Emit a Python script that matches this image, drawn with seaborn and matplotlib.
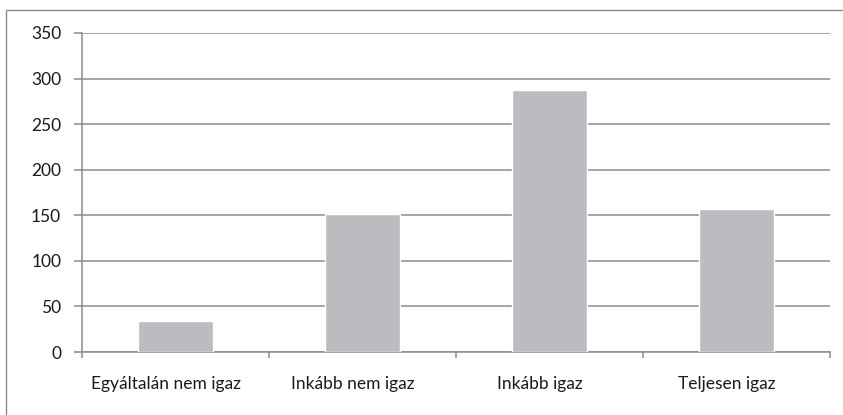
import matplotlib
matplotlib.use("Agg")
import matplotlib.pyplot as plt
import matplotlib.transforms as mtransforms
import seaborn as sns
from matplotlib.patches import Rectangle

# data
categories = ["Egyáltalán nem igaz", "Inkább nem igaz", "Inkább igaz", "Teljesen igaz"]
values = [34, 151, 287, 157]
y_ticks = [0, 50, 100, 150, 200, 250, 300, 350]

sns.set_style("white")
plt.rcParams["font.family"] = ["Lato", "DejaVu Sans"]

fig = plt.figure(figsize=(8.43, 4.15), dpi=100)
ax = fig.add_axes([0.0973, 0.1518, 0.8873, 0.7687])

grid_col = "#8c8c8c"
sns.barplot(x=categories, y=values, color="#bbbcbf", saturation=1,
            width=0.40, ax=ax, zorder=3)

ax.set_ylim(0, 350)
ax.set_xlim(-0.5, 3.5)
ax.set_yticks(y_ticks)
ax.set_yticklabels([str(v) for v in y_ticks])
ax.yaxis.grid(True, color=grid_col, linewidth=1.1)
ax.set_axisbelow(True)
ax.set_xlabel("")
ax.set_ylabel("")

for s in ["top", "right"]:
    ax.spines[s].set_visible(False)
for s in ["left", "bottom"]:
    ax.spines[s].set_color(grid_col)
    ax.spines[s].set_linewidth(1.1)

ax.tick_params(axis="y", left=True, length=6, width=1.1, color=grid_col,
               pad=9, labelsize=12.5, labelcolor="#1a1a1a")
ax.tick_params(axis="x", which="major", bottom=False, length=0, pad=17,
               labelsize=12.5, labelcolor="#1a1a1a")
ax.set_xticks([-0.5, 0.5, 1.5, 2.5, 3.5], minor=True)
ax.tick_params(axis="x", which="minor", bottom=True, length=4.5, width=1.1,
               color=grid_col, direction="out")

# category labels sit a little left of the bar centres in the original
shift = mtransforms.ScaledTranslation(-0.10, 0, fig.dpi_scale_trans)
for lab in ax.get_xticklabels():
    lab.set_transform(lab.get_transform() + shift)

# outer chart border (only left and top edges fall inside the image)
fig.patches.append(Rectangle((6 / 843, -0.1), 1.2, 1 - 10 / 415 + 0.1,
                             transform=fig.transFigure, fill=False,
                             edgecolor="#8a8a8a", linewidth=1))

fig.savefig("out.png", dpi=100)
